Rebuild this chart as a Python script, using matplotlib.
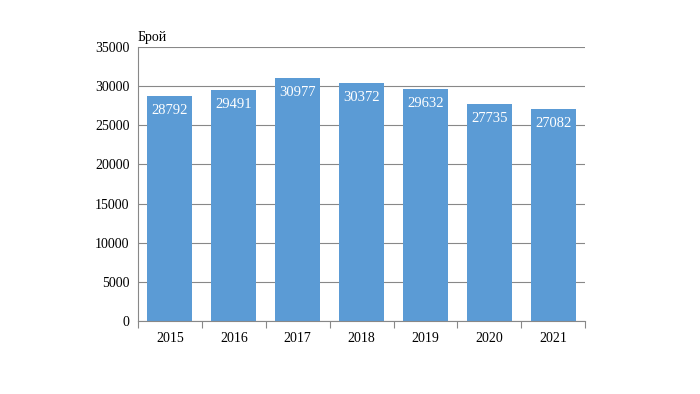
import matplotlib
matplotlib.use("Agg")
import matplotlib.pyplot as plt

years = ["2015", "2016", "2017", "2018", "2019", "2020", "2021"]
values = [28792, 29491, 30977, 30372, 29632, 27735, 27082]
yticks = [0, 5000, 10000, 15000, 20000, 25000, 30000, 35000]

plt.rcParams['font.family'] = ['Liberation Serif', 'DejaVu Serif']

fig = plt.figure(figsize=(7, 3.94), dpi=100)
ax = fig.add_axes([0.197, 0.185, 0.639, 0.696])

x = list(range(len(years)))
bars = ax.bar(x, values, width=0.70, color="#5B9BD5", zorder=2)
for xi, v in zip(x, values):
    ax.annotate(str(v), (xi, v), xytext=(0, -10.5), textcoords="offset points",
                ha="center", va="center", color="white", fontsize=10.5, zorder=3)

ax.set_xlim(-0.5, len(years) - 0.5)
ax.set_ylim(0, 35000)
ax.set_yticks(yticks)
ax.set_yticklabels([str(t) for t in yticks], fontsize=10)
ax.yaxis.grid(True, color="#888888", linewidth=0.8, zorder=0)
ax.set_axisbelow(True)

ax.set_xticks([i + 0.5 for i in range(-1, len(years))], minor=False)
ax.set_xticklabels([])
ax.set_xticks(x, minor=True)
ax.set_xticklabels(years, minor=True, fontsize=10)
ax.tick_params(axis="x", which="major", length=5, color="#888888", direction="out")
ax.tick_params(axis="x", which="minor", length=0, pad=8)
ax.tick_params(axis="y", length=0, pad=6)

for s in ["top", "right"]:
    ax.spines[s].set_visible(False)
for s in ["left", "bottom"]:
    ax.spines[s].set_color("#888888")
    ax.spines[s].set_linewidth(0.8)

fig.text(0.197, 0.904, "Брой", fontsize=10, ha="left", va="center")

fig.savefig("out.png", dpi=100)
